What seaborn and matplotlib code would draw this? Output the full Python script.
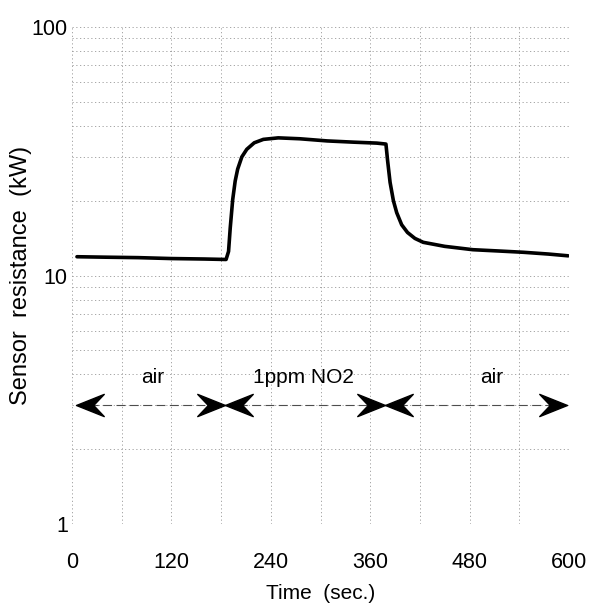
import numpy as np
import pandas as pd
import matplotlib
matplotlib.use("Agg")
import matplotlib.pyplot as plt
import matplotlib.ticker as mticker
from matplotlib.path import Path
import seaborn as sns

# sensor response
time_s = [6, 40, 80, 120, 160, 186, 189, 191, 194, 197, 200, 205, 211, 220, 231,
          249, 275, 308, 340, 368, 379, 381, 384, 388, 392, 398, 405, 414, 424,
          450, 484, 515, 545, 575, 599]
resistance = [11.9, 11.85, 11.8, 11.7, 11.65, 11.6, 12.5, 15.5, 20.2, 24.0, 26.8,
              30.0, 32.2, 34.2, 35.3, 35.8, 35.5, 34.8, 34.4, 34.1, 33.8, 29.0,
              23.7, 20.0, 17.9, 16.0, 14.9, 14.1, 13.6, 13.1, 12.7, 12.55, 12.4,
              12.2, 12.0]

phase_start = [5, 185, 378]
phase_end = [185, 378, 598]
phase_label = ["air", "1ppm NO2", "air"]
label_x = [98, 279, 507]

xticks = [0, 120, 240, 360, 480, 600]
yticks = [1, 10, 100]

df = pd.DataFrame({"t": time_s, "r": resistance})

sns.set_style("white")
plt.rcParams["font.family"] = ["Liberation Sans", "DejaVu Sans"]
plt.rcParams["text.color"] = "black"
plt.rcParams["axes.labelcolor"] = "black"
plt.rcParams["xtick.color"] = "black"
plt.rcParams["ytick.color"] = "black"

fig = plt.figure(figsize=(5.99, 6.13), dpi=100)
ax = fig.add_axes([72 / 599, 1 - 524 / 613, 497 / 599, 497 / 613])

sns.lineplot(data=df, x="t", y="r", color="black", linewidth=2.6, ax=ax)

ax.set_yscale("log")
ax.set_xlim(0, 600)
ax.set_ylim(1, 100)
ax.set_xticks(xticks)
ax.xaxis.set_minor_locator(mticker.MultipleLocator(60))
ax.set_yticks(yticks)
ax.set_yticklabels([str(v) for v in yticks])
ax.yaxis.set_minor_locator(mticker.LogLocator(base=10, subs=np.arange(2, 10)))
ax.yaxis.set_minor_formatter(mticker.NullFormatter())

ax.grid(True, which="both", color="0.6", linestyle=(0, (1.5, 3)), linewidth=0.6)
for s in ax.spines.values():
    s.set_visible(False)
ax.tick_params(which="both", length=0)
ax.tick_params(axis="x", labelsize=15.5, pad=20)
ax.tick_params(axis="y", labelsize=15.5, pad=3)

ax.set_xlabel("Time  (sec.)", fontsize=15, labelpad=8)
ax.set_ylabel("Sensor  resistance  (kW)", fontsize=17, labelpad=0)

# concave arrow heads (tip at origin)
head_r = Path([(0, 0), (-1, 0.4), (-0.62, 0), (-1, -0.4), (0, 0)],
              [Path.MOVETO, Path.LINETO, Path.LINETO, Path.LINETO, Path.CLOSEPOLY])
head_l = Path([(0, 0), (1, 0.4), (0.62, 0), (1, -0.4), (0, 0)],
              [Path.MOVETO, Path.LINETO, Path.LINETO, Path.LINETO, Path.CLOSEPOLY])
arrow_y = 3
for a, b, lab, lx in zip(phase_start, phase_end, phase_label, label_x):
    ax.plot([a, b], [arrow_y, arrow_y], color="0.3", linewidth=0.8,
            linestyle=(0, (8, 4)))
    ax.plot([a], [arrow_y], marker=head_l, markersize=40, color="black")
    ax.plot([b], [arrow_y], marker=head_r, markersize=40, color="black")
    ax.text(lx, 3.9, lab, ha="center", va="center", fontsize=15)

fig.savefig("out.png", dpi=100)
